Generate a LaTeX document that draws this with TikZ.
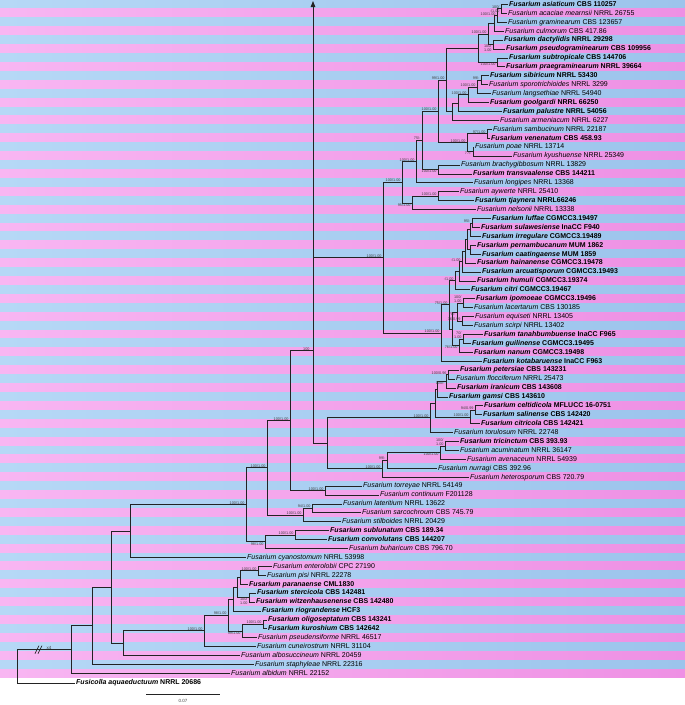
\documentclass[tikz,border=0pt]{standalone}
\usepackage{fontspec}
\setmainfont{Liberation Sans}
\usetikzlibrary{arrows.meta}
\definecolor{blL}{RGB}{182,216,246}
\definecolor{blR}{RGB}{156,196,236}
\definecolor{pkL}{RGB}{248,182,242}
\definecolor{pkR}{RGB}{238,144,228}
\definecolor{brc}{RGB}{35,35,35}
\newcommand{\tb}[2]{\textbf{\textit{#1} #2}}
\newcommand{\tn}[2]{\textit{#1} #2}
\pgfmathdeclarefunction{R}{1}{\pgfmathparse{(#1-0.5)*8.92}}
\tikzset{
  tip/.style={anchor=west,inner xsep=1.5pt,inner ysep=0pt,font=\fontsize{7}{7}\selectfont,text height=5pt,text depth=1.4pt},
  br/.style={draw=brc,line width=0.85pt},
  sup/.style={inner sep=0.3pt,font=\fontsize{3.8}{4}\selectfont,text=black!75},
  supa/.style={sup,anchor=south east},
  supb/.style={sup,anchor=north east},
}
\begin{document}
\begin{tikzpicture}[x=1pt,y=-1pt]
\useasboundingbox (0,0) rectangle (685,705);
\fill[white] (0,0) rectangle (685,705);
\foreach \i in {1,...,76}{
  \pgfmathtruncatemacro\odd{mod(\i,2)}
  \ifnum\odd=1
    \shade[left color=blL,right color=blR] (0,{(\i-1)*8.92}) rectangle (685,{\i*8.92});
  \else
    \shade[left color=pkL,right color=pkR] (0,{(\i-1)*8.92}) rectangle (685,{\i*8.92});
  \fi
}
% ---------- tips ----------
\node[tip] (t1) at (507.5,{R(1)}) {\tb{Fusarium asiaticum}{CBS 110257}};
\node[tip] (t2) at (506.5,{R(2)}) {\tn{Fusarium acaciae mearnsii}{NRRL 26755}};
\node[tip] (t3) at (506.5,{R(3)}) {\tn{Fusarium graminearum}{CBS 123657}};
\node[tip] (t4) at (503.5,{R(4)}) {\tn{Fusarium culmorum}{CBS 417.86}};
\node[tip] (t5) at (502.5,{R(5)}) {\tb{Fusarium dactylidis}{NRRL 29298}};
\node[tip] (t6) at (504.5,{R(6)}) {\tb{Fusarium pseudograminearum}{CBS 109956}};
\node[tip] (t7) at (507.5,{R(7)}) {\tb{Fusarium subtropicale}{CBS 144706}};
\node[tip] (t8) at (504.5,{R(8)}) {\tb{Fusarium praegraminearum}{NRRL 39664}};
\node[tip] (t9) at (488.5,{R(9)}) {\tb{Fusarium sibiricum}{NRRL 53430}};
\node[tip] (t10) at (487.5,{R(10)}) {\tn{Fusarium sporotrichioides}{NRRL 3299}};
\node[tip] (t11) at (490.5,{R(11)}) {\tn{Fusarium langsethiae}{NRRL 54940}};
\node[tip] (t12) at (488.5,{R(12)}) {\tb{Fusarium goolgardi}{NRRL 66250}};
\node[tip] (t13) at (501.5,{R(13)}) {\tb{Fusarium palustre}{NRRL 54056}};
\node[tip] (t14) at (498.5,{R(14)}) {\tn{Fusarium armeniacum}{NRRL 6227}};
\node[tip] (t15) at (491.5,{R(15)}) {\tn{Fusarium sambucinum}{NRRL 22187}};
\node[tip] (t16) at (489.5,{R(16)}) {\tb{Fusarium venenatum}{CBS 458.93}};
\node[tip] (t17) at (473.5,{R(17)}) {\tn{Fusarium poae}{NRRL 13714}};
\node[tip] (t18) at (511.5,{R(18)}) {\tn{Fusarium kyushuense}{NRRL 25349}};
\node[tip] (t19) at (459.5,{R(19)}) {\tn{Fusarium brachygibbosum}{NRRL 13829}};
\node[tip] (t20) at (471.5,{R(20)}) {\tb{Fusarium transvaalense}{CBS 144211}};
\node[tip] (t21) at (472.5,{R(21)}) {\tn{Fusarium longipes}{NRRL 13368}};
\node[tip] (t22) at (458.5,{R(22)}) {\tn{Fusarium aywerte}{NRRL 25410}};
\node[tip] (t23) at (473.5,{R(23)}) {\tb{Fusarium tjaynera}{NRRL66246}};
\node[tip] (t24) at (475.5,{R(24)}) {\tn{Fusarium nelsonii}{NRRL 13338}};
\node[tip] (t25) at (490.5,{R(25)}) {\tb{Fusarium luffae}{CGMCC3.19497}};
\node[tip] (t26) at (479.5,{R(26)}) {\tb{Fusarium sulawesiense}{InaCC F940}};
\node[tip] (t27) at (480.5,{R(27)}) {\tb{Fusarium irregulare}{CGMCC3.19489}};
\node[tip] (t28) at (475.5,{R(28)}) {\tb{Fusarium pernambucanum}{MUM 1862}};
\node[tip] (t29) at (480.5,{R(29)}) {\tb{Fusarium caatingaense}{MUM 1859}};
\node[tip] (t30) at (475.5,{R(30)}) {\tb{Fusarium hainanense}{CGMCC3.19478}};
\node[tip] (t31) at (480.5,{R(31)}) {\tb{Fusarium arcuatisporum}{CGMCC3.19493}};
\node[tip] (t32) at (475.5,{R(32)}) {\tb{Fusarium humuli}{CGMCC3.19374}};
\node[tip] (t33) at (469.5,{R(33)}) {\tb{Fusarium citri}{CGMCC3.19467}};
\node[tip] (t34) at (474.5,{R(34)}) {\tb{Fusarium ipomoeae}{CGMCC3.19496}};
\node[tip] (t35) at (472.5,{R(35)}) {\tn{Fusarium lacertarum}{CBS 130185}};
\node[tip] (t36) at (473.5,{R(36)}) {\tn{Fusarium equiseti}{NRRL 13405}};
\node[tip] (t37) at (472.5,{R(37)}) {\tn{Fusarium scirpi}{NRRL 13402}};
\node[tip] (t38) at (482.5,{R(38)}) {\tb{Fusarium tanahbumbuense}{InaCC F965}};
\node[tip] (t39) at (470.5,{R(39)}) {\tb{Fusarium guilinense}{CGMCC3.19495}};
\node[tip] (t40) at (472.5,{R(40)}) {\tb{Fusarium nanum}{CGMCC3.19498}};
\node[tip] (t41) at (481.5,{R(41)}) {\tb{Fusarium kotabaruense}{InaCC F963}};
\node[tip] (t42) at (458.5,{R(42)}) {\tb{Fusarium petersiae}{CBS 143231}};
\node[tip] (t43) at (454.5,{R(43)}) {\tn{Fusarium flocciferum}{NRRL 25473}};
\node[tip] (t44) at (455.5,{R(44)}) {\tb{Fusarium iranicum}{CBS 143608}};
\node[tip] (t45) at (447.5,{R(45)}) {\tb{Fusarium gamsi}{CBS 143610}};
\node[tip] (t46) at (482.5,{R(46)}) {\tb{Fusarium celtidicola}{MFLUCC 16-0751}};
\node[tip] (t47) at (481.5,{R(47)}) {\tb{Fusarium salinense}{CBS 142420}};
\node[tip] (t48) at (479.5,{R(48)}) {\tb{Fusarium citricola}{CBS 142421}};
\node[tip] (t49) at (452.5,{R(49)}) {\tn{Fusarium torulosum}{NRRL 22748}};
\node[tip] (t50) at (458.5,{R(50)}) {\tb{Fusarium tricinctum}{CBS 393.93}};
\node[tip] (t51) at (458.5,{R(51)}) {\tn{Fusarium acuminatum}{NRRL 36147}};
\node[tip] (t52) at (465.5,{R(52)}) {\tn{Fusarium avenaceum}{NRRL 54939}};
\node[tip] (t53) at (436.5,{R(53)}) {\tn{Fusarium nurragi}{CBS 392.96}};
\node[tip] (t54) at (468.5,{R(54)}) {\tn{Fusarium heterosporum}{CBS 720.79}};
\node[tip] (t55) at (361.5,{R(55)}) {\tn{Fusarium torreyae}{NRRL 54149}};
\node[tip] (t56) at (378.5,{R(56)}) {\tn{Fusarium continuum}{F201128}};
\node[tip] (t57) at (341.5,{R(57)}) {\tn{Fusarium lateritium}{NRRL 13622}};
\node[tip] (t58) at (360.5,{R(58)}) {\tn{Fusarium sarcochroum}{CBS 745.79}};
\node[tip] (t59) at (340.5,{R(59)}) {\tn{Fusarium stilboides}{NRRL 20429}};
\node[tip] (t60) at (328.5,{R(60)}) {\tb{Fusarium sublunatum}{CBS 189.34}};
\node[tip] (t61) at (326.5,{R(61)}) {\tb{Fusarium convolutans}{CBS 144207}};
\node[tip] (t62) at (347.5,{R(62)}) {\tn{Fusarium buharicum}{CBS 796.70}};
\node[tip] (t63) at (245.5,{R(63)}) {\tn{Fusarium cyanostomum}{NRRL 53998}};
\node[tip] (t64) at (271.5,{R(64)}) {\tn{Fusarium enterolobii}{CPC 27190}};
\node[tip] (t65) at (265.5,{R(65)}) {\tn{Fusarium pisi}{NRRL 22278}};
\node[tip] (t66) at (247.5,{R(66)}) {\tb{Fusarium paranaense}{CML1830}};
\node[tip] (t67) at (255.5,{R(67)}) {\tb{Fusarium stercicola}{CBS 142481}};
\node[tip] (t68) at (254.5,{R(68)}) {\tb{Fusarium witzenhausenense}{CBS 142480}};
\node[tip] (t69) at (260.5,{R(69)}) {\tb{Fusarium riograndense}{HCF3}};
\node[tip] (t70) at (266.5,{R(70)}) {\tb{Fusarium oligoseptatum}{CBS 143241}};
\node[tip] (t71) at (266.5,{R(71)}) {\tb{Fusarium kuroshium}{CBS 142642}};
\node[tip] (t72) at (256.5,{R(72)}) {\tn{Fusarium pseudensiforme}{NRRL 46517}};
\node[tip] (t73) at (255.5,{R(73)}) {\tn{Fusarium cuneirostrum}{NRRL 31104}};
\node[tip] (t74) at (239.5,{R(74)}) {\tn{Fusarium albosuccineum}{NRRL 20459}};
\node[tip] (t75) at (253.5,{R(75)}) {\tn{Fusarium staphyleae}{NRRL 22316}};
\node[tip] (t76) at (229.5,{R(76)}) {\tn{Fusarium albidum}{NRRL 22152}};
\node[tip] (t77) at (74.5,683) {\tb{Fusicolla aquaeductuum}{NRRL 20686}};
% ---------- internal nodes ----------
\coordinate (a1) at (501,{R(1.5)});
\coordinate (a2) at (497,{R(2.25)});
\coordinate (a3) at (494,{R(3.125)});
\coordinate (b1) at (493,{R(5.5)});
\coordinate (a4) at (488,{R(4.3125)});
\coordinate (c1) at (497,{R(7.5)});
\coordinate (c2) at (478,{R(5.90625)});
\coordinate (d1) at (481,{R(9.5)});
\coordinate (d2) at (477,{R(10.25)});
\coordinate (d3) at (468,{R(11.125)});
\coordinate (e1) at (458,{R(12.0625)});
\coordinate (e2) at (452,{R(13.03)});
\coordinate (P) at (446,{R(9.47)});
\coordinate (f1) at (487,{R(15.5)});
\coordinate (f2) at (473,{R(17.5)});
\coordinate (Q) at (467,{R(16.5)});
\coordinate (L) at (438,{R(12.98)});
\coordinate (M) at (438,{R(19.5)});
\coordinate (K) at (422,{R(16.24)});
\coordinate (N) at (416,{R(18.62)});
\coordinate (O) at (438,{R(22.5)});
\coordinate (O2) at (412,{R(23.25)});
\coordinate (S1) at (402,{R(20.94)});
\coordinate (g1) at (472,{R(25.5)});
\coordinate (g2) at (470,{R(26.25)});
\coordinate (g3) at (470,{R(28.5)});
\coordinate (g4) at (467,{R(27.375)});
\coordinate (g5) at (465,{R(28.69)});
\coordinate (g6) at (462,{R(29.84)});
\coordinate (g7) at (459,{R(30.92)});
\coordinate (g8) at (455,{R(31.96)});
\coordinate (h1) at (463,{R(34.5)});
\coordinate (h2) at (462,{R(36.5)});
\coordinate (h3) at (457,{R(35.5)});
\coordinate (h4) at (463,{R(38.5)});
\coordinate (h5) at (459,{R(39.25)});
\coordinate (h6) at (452,{R(37.375)});
\coordinate (h7) at (449,{R(34.67)});
\coordinate (h8) at (441,{R(37.83)});
\coordinate (T1) at (383,{R(29.39)});
\coordinate (i1) at (448,{R(42.5)});
\coordinate (i2) at (446,{R(43.25)});
\coordinate (i3) at (437,{R(44.125)});
\coordinate (i4) at (475,{R(46.5)});
\coordinate (i5) at (470,{R(47.25)});
\coordinate (i6) at (435,{R(45.69)});
\coordinate (i7) at (430,{R(47.34)});
\coordinate (j1) at (445,{R(50.5)});
\coordinate (j2) at (440,{R(51.25)});
\coordinate (j3) at (387,{R(52.125)});
\coordinate (j4) at (382,{R(53.06)});
\coordinate (k1) at (327,{R(50.2)});
\coordinate (B2) at (313,{R(39.8)});
\coordinate (m1) at (325,{R(55.5)});
\coordinate (B3) at (290,{R(47.65)});
\coordinate (n1) at (312,{R(57.5)});
\coordinate (n2) at (303,{R(58.25)});
\coordinate (B4) at (267,{R(52.95)});
\coordinate (o1) at (295,{R(60.5)});
\coordinate (o2) at (265,{R(61.25)});
\coordinate (B5) at (246,{R(57.1)});
\coordinate (B6) at (130,{R(60.05)});
\coordinate (p1) at (258,{R(64.5)});
\coordinate (p2) at (240,{R(65.25)});
\coordinate (q1) at (249,{R(67.5)});
\coordinate (p3) at (237,{R(66.375)});
\coordinate (p4) at (233,{R(67.69)});
\coordinate (r1) at (263,{R(70.5)});
\coordinate (r2) at (242,{R(71.25)});
\coordinate (p5) at (228,{R(69.47)});
\coordinate (p6) at (204,{R(71.23)});
\coordinate (p7) at (123,{R(72.6)});
\coordinate (B7) at (111,{R(66.3)});
\coordinate (B8) at (92,{R(70.66)});
\coordinate (B9) at (71,{R(73.33)});
\coordinate (root) at (17,665);
% ---------- branches ----------
\begin{scope}[br]
\draw (a1) |- (t1.west); \draw (a1) |- (t2.west);
\draw (a2) |- (a1); \draw (a2) |- (t3.west);
\draw (a3) |- (a2); \draw (a3) |- (t4.west);
\draw (b1) |- (t5.west); \draw (b1) |- (t6.west);
\draw (a4) |- (a3); \draw (a4) |- (b1);
\draw (c1) |- (t7.west); \draw (c1) |- (t8.west);
\draw (c2) |- (a4); \draw (c2) |- (c1);
\draw (d1) |- (t9.west); \draw (d1) |- (t10.west);
\draw (d2) |- (d1); \draw (d2) |- (t11.west);
\draw (d3) |- (d2); \draw (d3) |- (t12.west);
\draw (e1) |- (d3); \draw (e1) |- (t13.west);
\draw (e2) |- (e1); \draw (e2) |- (t14.west);
\draw (P) |- (c2); \draw (P) |- (e2);
\draw (f1) |- (t15.west); \draw (f1) |- (t16.west);
\draw (f2) |- (t17.west); \draw (f2) |- (t18.west);
\draw (Q) |- (f1); \draw (Q) |- (f2);
\draw (L) |- (P); \draw (L) |- (Q);
\draw (M) |- (t19.west); \draw (M) |- (t20.west);
\draw (K) |- (L); \draw (K) |- (M);
\draw (N) |- (K); \draw (N) |- (t21.west);
\draw (O) |- (t22.west); \draw (O) |- (t23.west);
\draw (O2) |- (O); \draw (O2) |- (t24.west);
\draw (S1) |- (N); \draw (S1) |- (O2);
\draw (g1) |- (t25.west); \draw (g1) |- (t26.west);
\draw (g2) |- (g1); \draw (g2) |- (t27.west);
\draw (g3) |- (t28.west); \draw (g3) |- (t29.west);
\draw (g4) |- (g2); \draw (g4) |- (g3);
\draw (g5) |- (g4); \draw (g5) |- (t30.west);
\draw (g6) |- (g5); \draw (g6) |- (t31.west);
\draw (g7) |- (g6); \draw (g7) |- (t32.west);
\draw (g8) |- (g7); \draw (g8) |- (t33.west);
\draw (h1) |- (t34.west); \draw (h1) |- (t35.west);
\draw (h2) |- (t36.west); \draw (h2) |- (t37.west);
\draw (h3) |- (h1); \draw (h3) |- (h2);
\draw (h4) |- (t38.west); \draw (h4) |- (t39.west);
\draw (h5) |- (h4); \draw (h5) |- (t40.west);
\draw (h6) |- (h3); \draw (h6) |- (h5);
\draw (h7) |- (g8); \draw (h7) |- (h6);
\draw (h8) |- (h7); \draw (h8) |- (t41.west);
\draw (T1) |- (S1); \draw (T1) |- (h8);
\draw (i1) |- (t42.west); \draw (i1) |- (t43.west);
\draw (i2) |- (i1); \draw (i2) |- (t44.west);
\draw (i3) |- (i2); \draw (i3) |- (t45.west);
\draw (i4) |- (t46.west); \draw (i4) |- (t47.west);
\draw (i5) |- (i4); \draw (i5) |- (t48.west);
\draw (i6) |- (i3); \draw (i6) |- (i5);
\draw (i7) |- (i6); \draw (i7) |- (t49.west);
\draw (j1) |- (t50.west); \draw (j1) |- (t51.west);
\draw (j2) |- (j1); \draw (j2) |- (t52.west);
\draw (j3) |- (j2); \draw (j3) |- (t53.west);
\draw (j4) |- (j3); \draw (j4) |- (t54.west);
\draw (k1) |- (i7); \draw (k1) |- (j4);
\draw (B2) |- (T1); \draw (B2) |- (k1);
\draw (m1) |- (t55.west); \draw (m1) |- (t56.west);
\draw (B3) |- (B2); \draw (B3) |- (m1);
\draw (n1) |- (t57.west); \draw (n1) |- (t58.west);
\draw (n2) |- (n1); \draw (n2) |- (t59.west);
\draw (B4) |- (B3); \draw (B4) |- (n2);
\draw (o1) |- (t60.west); \draw (o1) |- (t61.west);
\draw (o2) |- (o1); \draw (o2) |- (t62.west);
\draw (B5) |- (B4); \draw (B5) |- (o2);
\draw (B6) |- (B5); \draw (B6) |- (t63.west);
\draw (p1) |- (t64.west); \draw (p1) |- (t65.west);
\draw (p2) |- (p1); \draw (p2) |- (t66.west);
\draw (q1) |- (t67.west); \draw (q1) |- (t68.west);
\draw (p3) |- (p2); \draw (p3) |- (q1);
\draw (p4) |- (p3); \draw (p4) |- (t69.west);
\draw (r1) |- (t70.west); \draw (r1) |- (t71.west);
\draw (r2) |- (r1); \draw (r2) |- (t72.west);
\draw (p5) |- (p4); \draw (p5) |- (r2);
\draw (p6) |- (p5); \draw (p6) |- (t73.west);
\draw (p7) |- (p6); \draw (p7) |- (t74.west);
\draw (B7) |- (B6); \draw (B7) |- (p7);
\draw (B8) |- (B7); \draw (B8) |- (t75.west);
\draw (B9) |- (B8); \draw (B9) |- (t76.west);
\draw (root) |- (B9); \draw (root) |- (t77.west);
\end{scope}
% arrow
\coordinate (arrT) at (313,1);
\draw[br,-{Triangle[length=6pt,width=4.5pt]}] (B2) -- (arrT);
% break mark and x4
\coordinate (brk) at (38,{R(73.33)});
\draw[brc,line width=0.6pt] ([shift={(-3,4)}]brk) -- ([shift={(1,-4)}]brk);
\draw[brc,line width=0.6pt] ([shift={(0,4)}]brk) -- ([shift={(4,-4)}]brk);
\node[sup,font=\fontsize{4.5}{5}\selectfont,anchor=south west] (x4) at (46,{R(73.33)}) {x4};
% scale bar
\coordinate (sb1) at (146,694);
\coordinate (sb2) at (220,694);
\draw[brc,line width=0.7pt] (sb1) -- (sb2);
\node[sup,font=\fontsize{4.5}{5}\selectfont] (sbl) at (183,701) {0.07};
% ---------- support values ----------
\node[supa] (s1) at ([xshift=-1]a1) {100/};
\node[supb] (s1b) at ([xshift=-1]a1) {-/1.00};
\node[supa] (s2) at ([xshift=-1]a2) {100/1.00};
\node[supa] (s3) at ([xshift=-1]a4) {100/1.00};
\node[supb,align=right] (s4) at ([xshift=-1]b1) {100/\\1.00};
\node[supb] (s5) at ([xshift=-1]c1) {100/1.00};
\node[supa] (s6) at ([xshift=-1]d1) {99/-};
\node[supa] (s7) at ([xshift=-1]d2) {100/1.00};
\node[supa] (s8) at ([xshift=-1]d3) {100/1.00};
\node[supa] (s9) at ([xshift=-1]P) {99/1.00};
\node[supa] (s10) at ([xshift=-1]L) {100/1.00};
\node[supa] (s11) at ([xshift=-1]f1) {97/1.00};
\node[supa] (s12) at ([xshift=-1]Q) {100/1.00};
\node[supb] (s13) at ([xshift=-1]f2) {77/-};
\node[supa] (s14) at ([xshift=-1]K) {75/-};
\node[supb] (s15) at ([xshift=-1]M) {100/1.00};
\node[supa] (s16) at ([xshift=-1]N) {100/1.00};
\node[supa] (s17) at ([xshift=-1]O) {100/1.00};
\node[supb] (s18) at ([xshift=-1]O2) {95/1.00};
\node[supa] (s19) at ([xshift=-1]S1) {100/1.00};
\node[supa] (s20) at ([xshift=-1]g1) {95/-};
\node[supa] (s21) at ([xshift=-1]g6) {-/1.00};
\node[supa] (s22) at ([xshift=-1]g8) {-/1.00};
\node[supa,align=right] (s23) at ([xshift=-1]h1) {100/\\1.00};
\node[supa] (s24) at ([xshift=-1]h2) {76/0.99};
\node[supa,align=right] (s25) at ([xshift=-1]h4) {70/\\1.00};
\node[supb] (s26) at ([xshift=-1]h5) {76/1.00};
\node[supb] (s27) at ([xshift=-1]h3) {70/-};
\node[supa] (s28) at ([xshift=-1]h7) {75/1.00};
\node[supa] (s29) at ([xshift=-1]h8) {100/1.00};
\node[supa] (s30) at ([xshift=-1]T1) {100/1.00};
\node[supa] (s31) at ([xshift=-1]i1) {100/0.96};
\node[supb] (s32) at ([xshift=-1]i2) {100/-};
\node[supa] (s33) at ([xshift=-1]i4) {94/0.99};
\node[supa] (s34) at ([xshift=-1]i5) {100/1.00};
\node[supa] (s35) at ([xshift=-1]i7) {100/1.00};
\node[supa,align=right] (s36) at ([xshift=-1]j1) {100/\\1.00};
\node[supb] (s37) at ([xshift=-1]j2) {100/1.00};
\node[supa] (s38) at ([xshift=-1]j3) {99/-};
\node[supa] (s39) at ([xshift=-1]j4) {100/1.00};
\node[supa] (s40) at ([xshift=-1]m1) {100/1.00};
\node[supa] (s41) at ([xshift=-1]n1) {94/1.00};
\node[supa] (s42) at ([xshift=-1]n2) {100/1.00};
\node[supa] (s43) at ([xshift=-1]o1) {100/1.00};
\node[supb] (s44) at ([xshift=-1]o2) {98/1.00};
\node[supa] (s45) at ([xshift=-1]p1) {100/1.00};
\node[supb,align=right] (s46) at ([xshift=-1]q1) {100/\\1.00};
\node[supa] (s47) at ([xshift=-1]r1) {100/1.00};
\node[supb] (s48) at ([xshift=-1]r2) {99/1.00};
\node[supa] (s49) at ([xshift=-1]p5) {98/1.00};
\node[supa] (s50) at ([xshift=-1]p6) {100/1.00};
\node[supa] (s51) at ([xshift=-3]B2) {100};
\node[supa] (s52) at ([xshift=-1]B3) {100/1.00};
\node[supa] (s53) at ([xshift=-1]B4) {100/1.00};
\node[supa] (s54) at ([xshift=-1]B5) {100/1.00};
\end{tikzpicture}
\end{document}
